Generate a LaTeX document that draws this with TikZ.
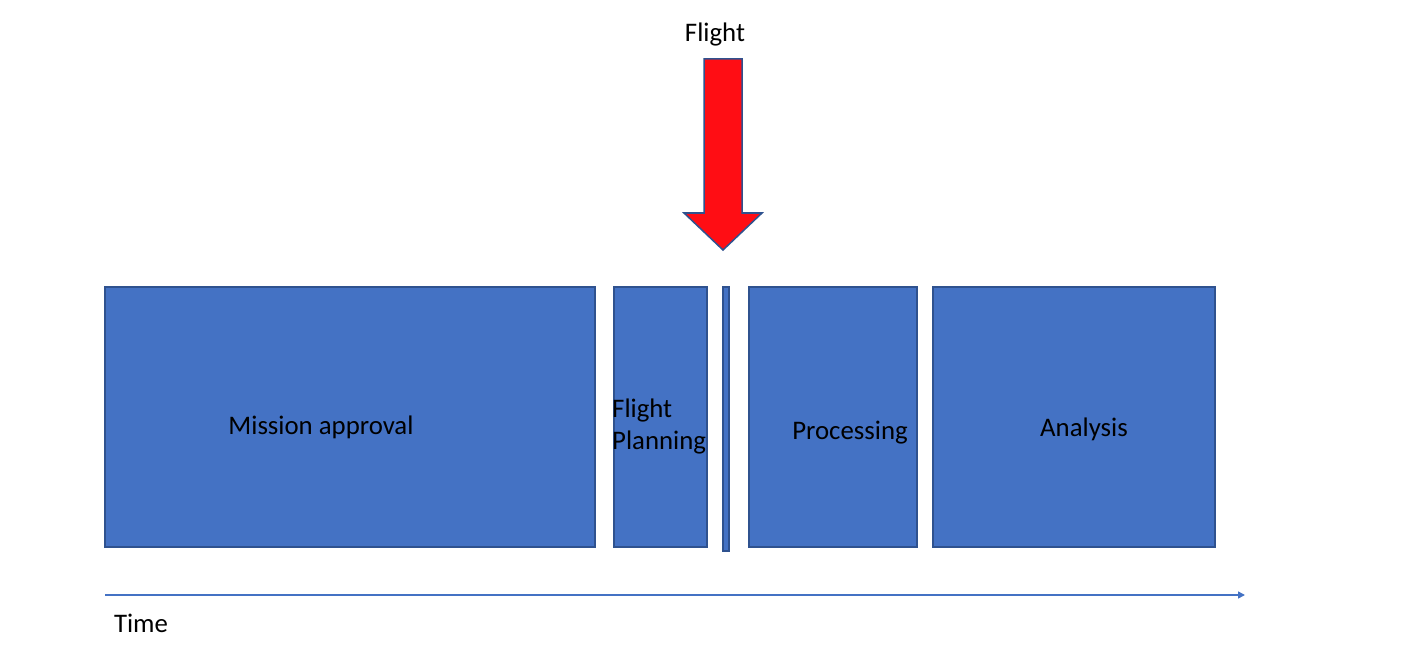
\documentclass[tikz,border=0pt]{standalone}
\usepackage{fontspec}
\setmainfont{Carlito}
\usetikzlibrary{arrows.meta}
\definecolor{boxfill}{HTML}{4472C4}
\definecolor{boxline}{HTML}{2F528F}
\definecolor{arrred}{HTML}{FF0D14}
\begin{document}
\begin{tikzpicture}[x=1pt,y=-1pt,
  phase/.style={draw=boxline,fill=boxfill,line width=1.5pt},
  lbl/.style={font=\fontsize{26.8}{32}\selectfont,text=black,inner sep=0pt}]
\useasboundingbox (0,0) rectangle (1428,666);
% boxes
\path[phase] (105,287) rectangle (595,547);
\path[phase] (614,287) rectangle (707,547);
\path[phase] (723,287) rectangle (729,551);
\path[phase] (749,287) rectangle (917,547);
\path[phase] (933,287) rectangle (1215,547);
\node[lbl] (mission) at (321,427) {Mission approval};
\node[lbl,align=left,anchor=west] (planning) at (612,426) {Flight\\Planning};
\node[lbl] (processing) at (850,433) {Processing};
\node[lbl] (analysis) at (1084,429) {Analysis};
% flight arrow
\path[draw=boxline,fill=arrred,line width=1.5pt]
  (704,59) -- (742,59) -- (742,213) -- (762,213) -- (723,250) -- (684,213) -- (704,213) -- cycle;
\node[lbl] (flight) at (715,35) {Flight};
% time axis
\coordinate (t0) at (105,595);
\coordinate (t1) at (1245,595);
\draw[boxfill,line width=1.5pt,-{Triangle[length=7pt,width=7pt]}] (t0) -- (t1);
\node[lbl] (time) at (141,623) {Time};
\end{tikzpicture}
\end{document}
